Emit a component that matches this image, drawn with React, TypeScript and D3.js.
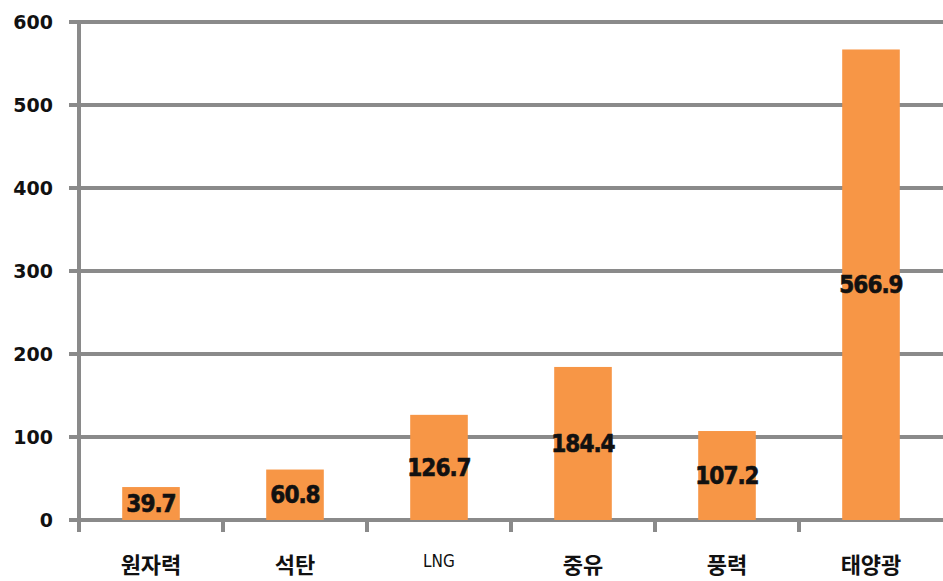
import { useRef, useEffect } from 'react'
import * as d3 from 'd3'

const categories = ['원자력', '석탄', 'LNG', '중유', '풍력', '태양광']
const values = [39.7, 60.8, 126.7, 184.4, 107.2, 566.9]
const yTicks = [0, 100, 200, 300, 400, 500, 600]

const W = 943
const H = 581
const GRID = '#8a8a8a'
const BAR = '#f79646'

export default function App() {
  const svgRef = useRef<SVGSVGElement>(null)

  useEffect(() => {
    document.body.style.margin = '0'
    if (!svgRef.current) return
    const svg = d3.select(svgRef.current)
    svg.selectAll('*').remove()

    const margin = { top: 22, right: 0, bottom: 61, left: 79 }
    const innerW = W - margin.left - margin.right
    const innerH = H - margin.top - margin.bottom

    const x = d3.scaleBand<string>().domain(categories).range([0, innerW]).paddingInner(0.6).paddingOuter(0.3)
    const y = d3.scaleLinear().domain([0, 600]).range([innerH, 0])

    const g = svg.append('g').attr('transform', `translate(${margin.left},${margin.top})`)
    const isLatin = (d: string) => /^[A-Z]+$/.test(d)

    // gridlines (incl. baseline)
    g.selectAll('.grid')
      .data(yTicks)
      .join('line')
      .attr('x1', -10)
      .attr('x2', innerW)
      .attr('y1', (d) => y(d))
      .attr('y2', (d) => y(d))
      .attr('stroke', GRID)
      .attr('stroke-width', 4)

    // bars
    g.selectAll('.bar')
      .data(values)
      .join('rect')
      .attr('x', (_, i) => x(categories[i]) ?? 0)
      .attr('y', (d) => y(d))
      .attr('width', x.bandwidth())
      .attr('height', (d) => innerH - y(d))
      .attr('fill', BAR)

    // y axis line
    g.append('line')
      .attr('x1', 0)
      .attr('x2', 0)
      .attr('y1', y(600) - 2)
      .attr('y2', innerH + 12)
      .attr('stroke', GRID)
      .attr('stroke-width', 4)

    // x ticks between categories
    const step = x.step()
    g.selectAll('.xtick')
      .data(categories.slice(1))
      .join('line')
      .attr('x1', (d) => (x(d) ?? 0) - (step - x.bandwidth()) / 2)
      .attr('x2', (d) => (x(d) ?? 0) - (step - x.bandwidth()) / 2)
      .attr('y1', innerH)
      .attr('y2', innerH + 12)
      .attr('stroke', GRID)
      .attr('stroke-width', 4)

    // y tick labels
    g.selectAll('.ylab')
      .data(yTicks)
      .join('text')
      .attr('x', -26)
      .attr('y', (d) => y(d))
      .attr('dy', '0.36em')
      .attr('text-anchor', 'end')
      .attr('font-family', 'DejaVu Sans, sans-serif')
      .attr('font-weight', 'bold')
      .attr('font-size', 19)
      .attr('fill', '#111')
      .text((d) => String(d))

    // value labels centered in bars
    g.selectAll('.vlab')
      .data(values)
      .join('text')
      .attr('x', (_, i) => (x(categories[i]) ?? 0) + x.bandwidth() / 2)
      .attr('y', (d) => (y(d) + innerH) / 2)
      .attr('dy', '0.36em')
      .attr('text-anchor', 'middle')
      .attr('font-family', 'DejaVu Sans Condensed, DejaVu Sans, sans-serif')
      .attr('font-stretch', 'condensed')
      .attr('font-weight', 'bold')
      .attr('font-size', 24)
      .attr('letter-spacing', -1)
      .attr('fill', '#111')
      .attr('stroke', '#111')
      .attr('stroke-width', 0.6)
      .text((d) => d.toFixed(1))

    // category labels
    g.selectAll('.xlab')
      .data(categories)
      .join('text')
      .attr('x', (d) => (x(d) ?? 0) + x.bandwidth() / 2)
      .attr('y', (d) => (isLatin(d) ? innerH + 41 : innerH + 45))
      .attr('dy', '0.36em')
      .attr('text-anchor', 'middle')
      .attr('font-family', (d) => (isLatin(d) ? 'DejaVu Sans Condensed, sans-serif' : 'Noto Sans CJK KR, sans-serif'))
      .attr('font-weight', (d) => (isLatin(d) ? 'normal' : 'bold'))
      .attr('font-size', (d) => (isLatin(d) ? 17 : 22))
      .attr('fill', '#111')
      .text((d) => d)
  }, [])

  return <svg ref={svgRef} width={W} height={H} style={{ display: 'block', background: '#fff' }} />
}
